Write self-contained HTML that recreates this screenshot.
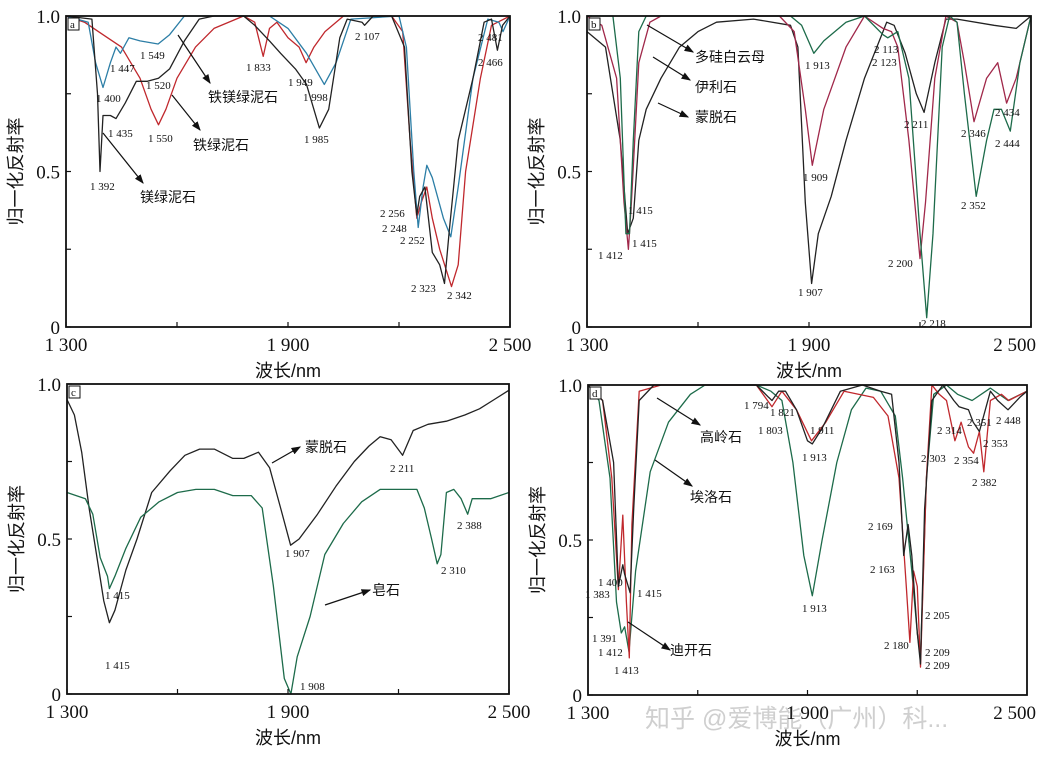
<!DOCTYPE html>
<html><head><meta charset="utf-8"><style>
html,body{margin:0;padding:0;background:#fff;}
svg{display:block;font-family:"Liberation Serif","Noto Serif CJK SC",serif;}
.num{font-size:11px;fill:#111;}
.nm{font-size:14px;fill:#111;font-family:"Liberation Sans","Noto Sans CJK SC",sans-serif;}
.tick{font-size:19px;fill:#111;}
.ttl{font-size:18px;fill:#111;font-family:"Liberation Sans","Noto Sans CJK SC",sans-serif;}
</style></head><body>
<svg id="fig" width="1038" height="761" viewBox="0 0 1038 761" xmlns="http://www.w3.org/2000/svg">
<defs><marker id="ah" markerWidth="8" markerHeight="6" refX="7" refY="3" orient="auto"><path d="M0,0 L8,3 L0,6 Z" fill="#111"/></marker></defs>
<text x="645" y="727" font-size="25" fill="#cfcfcf" font-family="Liberation Sans, Noto Sans CJK SC, sans-serif">知乎 @爱博能（广州）科...</text>
</svg>
<script>
// Panel a: chlorites
const aWl1=[1300,1370,1385,1392,1400,1420,1435,1460,1490,1520,1550,1580,1620,1660,1700,1780,1810,1850,1880,1920,1950,1985,2010,2040,2060,2100,2107,2130,2180,2215,2235,2248,2256,2270,2290,2310,2323,2335,2360,2400,2430,2450,2466,2480,2500];
const aV1=[1.0,0.99,0.75,0.5,0.68,0.68,0.67,0.72,0.79,0.79,0.8,0.83,0.92,0.99,1.0,1.0,0.97,0.92,0.88,0.83,0.78,0.64,0.7,0.93,0.99,0.98,0.97,1.0,1.0,0.9,0.5,0.36,0.42,0.45,0.24,0.2,0.14,0.3,0.6,0.8,0.98,0.99,0.89,0.97,1.0];
const aWl2=[1300,1360,1380,1400,1420,1435,1447,1470,1500,1549,1580,1620,1850,1900,1950,1998,2030,2070,2200,2220,2240,2252,2265,2275,2290,2320,2340,2360,2400,2440,2470,2481,2500];
const aV2=[1.0,0.98,0.85,0.77,0.85,0.9,0.88,0.93,0.92,0.91,0.94,1.0,1.0,0.96,0.88,0.78,0.85,0.99,1.0,0.9,0.5,0.32,0.45,0.52,0.48,0.35,0.29,0.45,0.8,0.99,0.98,0.95,1.0];
const aWl3=[1300,1350,1400,1450,1500,1530,1550,1570,1600,1650,1700,1780,1810,1833,1850,1870,1900,1930,1949,1970,2000,2050,2180,2210,2230,2248,2260,2275,2290,2310,2342,2360,2380,2420,2450,2500];
const aV3=[1.0,0.98,0.94,0.9,0.8,0.7,0.65,0.7,0.8,0.9,0.96,1.0,0.98,0.87,0.96,0.98,0.93,0.9,0.85,0.9,0.95,1.0,1.0,0.95,0.6,0.35,0.4,0.45,0.35,0.25,0.13,0.2,0.5,0.8,0.97,1.0];
// Panel b: micas / smectite
const bWl1=[1300,1370,1390,1405,1415,1425,1440,1460,1850,1880,1913,1940,2000,2050,2100,2113,2140,2170,2200,2218,2235,2260,2280,2300,2320,2352,2380,2400,2420,2444,2470,2500];
const bV1=[1.0,1.0,0.8,0.3,0.3,0.6,0.95,1.0,1.0,0.97,0.88,0.92,0.98,1.0,0.94,0.93,0.95,0.8,0.3,0.03,0.3,0.9,1.0,0.98,0.75,0.42,0.6,0.7,0.7,0.63,0.85,1.0];
const bWl2=[1300,1340,1380,1400,1412,1420,1440,1470,1500,1820,1860,1890,1909,1940,2000,2050,2100,2123,2140,2170,2200,2215,2240,2270,2300,2320,2346,2380,2410,2434,2460,2500];
const bV2=[1.0,0.97,0.8,0.4,0.25,0.4,0.85,0.98,1.0,1.0,0.95,0.7,0.52,0.7,0.9,1.0,0.96,0.95,0.9,0.6,0.22,0.4,0.8,1.0,0.98,0.85,0.66,0.8,0.85,0.72,0.8,1.0];
const bWl3=[1300,1350,1390,1410,1425,1440,1460,1500,1550,1600,1650,1750,1850,1870,1890,1907,1925,1960,2000,2050,2090,2110,2130,2160,2190,2211,2240,2270,2300,2400,2460,2500];
const bV3=[0.95,0.9,0.6,0.3,0.35,0.6,0.7,0.8,0.9,0.95,0.98,0.99,0.97,0.9,0.4,0.14,0.3,0.42,0.6,0.8,0.92,0.98,0.97,0.88,0.75,0.69,0.85,0.99,0.99,0.97,0.96,1.0];
// Panel c: montmorillonite / saponite
const cWl1=[1300,1320,1340,1360,1380,1400,1415,1430,1460,1490,1530,1580,1620,1660,1700,1750,1780,1820,1850,1880,1907,1930,1980,2030,2080,2120,2150,2180,2211,2240,2280,2330,2380,2420,2460,2500];
const cV1=[0.95,0.9,0.78,0.6,0.45,0.3,0.23,0.27,0.4,0.5,0.65,0.72,0.77,0.79,0.79,0.76,0.76,0.78,0.73,0.6,0.48,0.5,0.58,0.67,0.75,0.8,0.83,0.82,0.77,0.85,0.87,0.88,0.9,0.92,0.95,0.98];
const cWl2=[1300,1350,1370,1390,1410,1415,1430,1460,1500,1550,1600,1650,1700,1750,1800,1830,1860,1890,1908,1925,1960,2000,2050,2100,2150,2200,2250,2270,2290,2305,2315,2330,2350,2370,2388,2400,2450,2500];
const cV2=[0.65,0.63,0.58,0.44,0.38,0.34,0.38,0.47,0.57,0.62,0.65,0.66,0.66,0.64,0.64,0.6,0.35,0.05,0.0,0.12,0.25,0.45,0.55,0.62,0.66,0.66,0.66,0.6,0.5,0.42,0.45,0.65,0.66,0.63,0.58,0.63,0.63,0.65];
// Panel d: kaolin group
const dWl1=[1300,1340,1370,1383,1395,1400,1415,1425,1440,1480,1760,1794,1803,1821,1840,1870,1900,1913,1940,1990,2050,2100,2130,2150,2163,2175,2185,2200,2209,2220,2240,2270,2300,2314,2340,2353,2370,2400,2420,2448,2480,2500];
const dV1=[1.0,0.95,0.75,0.35,0.42,0.39,0.33,0.6,0.95,1.0,1.0,0.96,0.95,0.98,0.98,0.92,0.82,0.81,0.86,0.98,1.0,0.98,0.97,0.75,0.45,0.55,0.45,0.2,0.1,0.6,0.95,1.0,0.95,0.93,0.92,0.88,0.85,0.98,0.95,0.92,0.96,0.98];
const dWl2=[1300,1340,1365,1383,1395,1405,1413,1420,1440,1500,1760,1803,1830,1870,1911,1950,2000,2080,2120,2150,2170,2180,2190,2200,2209,2225,2240,2260,2280,2303,2320,2340,2354,2370,2382,2400,2430,2450,2500];
const dV2=[1.0,0.95,0.7,0.34,0.58,0.3,0.12,0.55,0.98,1.0,1.0,0.93,0.98,0.92,0.82,0.88,0.98,0.96,0.9,0.7,0.35,0.17,0.4,0.35,0.09,0.7,1.0,0.97,0.95,0.82,0.88,0.8,0.78,0.85,0.72,0.95,0.97,0.95,0.98];
const dWl3=[1300,1330,1360,1378,1391,1400,1412,1430,1470,1520,1580,1620,1760,1800,1830,1860,1890,1913,1940,1980,2020,2060,2100,2140,2160,2185,2200,2209,2225,2245,2280,2310,2350,2400,2448,2500];
const dV3=[1.0,0.95,0.7,0.3,0.2,0.22,0.14,0.4,0.72,0.88,0.97,1.0,1.0,0.98,0.95,0.75,0.45,0.32,0.5,0.75,0.92,0.99,0.98,0.9,0.7,0.4,0.2,0.12,0.7,0.97,1.0,0.97,0.95,0.99,0.95,0.98];
const xTicks=["1 300","1 900","2 500"];
const yTicks=["0","0.5","1.0"];

const svg=document.getElementById('fig');
const NS='http://www.w3.org/2000/svg';
function mk(tag,attrs,parent){const e=document.createElementNS(NS,tag);for(const k in attrs)e.setAttribute(k,attrs[k]);(parent||svg).appendChild(e);return e;}
function txt(x,y,s,cls,parent){const t=mk('text',{x:x,y:y,class:cls},parent);t.textContent=s;return t;}

const panels=[
 {id:'a',L:66,R:510,T:16,B:327,series:[[aWl3,aV3,'#c0282d','iron-chlorite'],[aWl2,aV2,'#2c7ea6','ferromagnesian-chlorite'],[aWl1,aV1,'#222','magnesian-chlorite']],
  names:[[208,102,'铁镁绿泥石'],[193,150,'铁绿泥石'],[140,202,'镁绿泥石']],arrows:[[178,35,210,83],[172,95,200,130],[103,133,143,183]],
  nums:[[140,59,'1 549'],[110,72,'1 447'],[96,102,'1 400'],[146,89,'1 520'],[108,137,'1 435'],[148,142,'1 550'],[90,190,'1 392'],[246,71,'1 833'],[288,86,'1 949'],[303,101,'1 998'],[304,143,'1 985'],[355,40,'2 107'],[478,41,'2 481'],[478,66,'2 466'],[380,217,'2 256'],[382,232,'2 248'],[400,244,'2 252'],[411,292,'2 323'],[447,299,'2 342']]},
 {id:'b',L:587,R:1031,T:16,B:327,series:[[bWl3,bV3,'#222','montmorillonite'],[bWl2,bV2,'#a0284a','illite'],[bWl1,bV1,'#1d6b4a','phengite']],
  names:[[695,62,'多硅白云母'],[695,92,'伊利石'],[695,122,'蒙脱石']],arrows:[[647,25,693,52],[653,57,690,80],[658,103,688,117]],
  nums:[[805,69,'1 913'],[874,53,'2 113'],[872,66,'2 123'],[904,128,'2 211'],[961,137,'2 346'],[995,116,'2 434'],[995,147,'2 444'],[803,181,'1 909'],[961,209,'2 352'],[628,214,'1 415'],[632,247,'1 415'],[598,259,'1 412'],[888,267,'2 200'],[798,296,'1 907'],[921,327,'2 218']]},
 {id:'c',L:67,R:509,T:384,B:694,series:[[cWl1,cV1,'#222','montmorillonite'],[cWl2,cV2,'#1d6b4a','saponite']],
  names:[[305,452,'蒙脱石'],[372,595,'皂石']],arrows:[[272,463,300,447],[325,605,370,590]],
  nums:[[390,472,'2 211'],[457,529,'2 388'],[285,557,'1 907'],[441,574,'2 310'],[105,599,'1 415'],[105,669,'1 415'],[300,690,'1 908']]},
 {id:'d',L:588,R:1027,T:385,B:695,series:[[dWl3,dV3,'#1d6b4a','halloysite'],[dWl2,dV2,'#c0282d','dickite'],[dWl1,dV1,'#222','kaolinite']],
  names:[[700,442,'高岭石'],[690,502,'埃洛石'],[670,655,'迪开石']],arrows:[[657,398,700,425],[655,460,692,486],[628,622,670,650]],
  nums:[[744,409,'1 794'],[770,416,'1 821'],[758,434,'1 803'],[810,434,'1 911'],[802,461,'1 913'],[937,434,'2 314'],[967,426,'2 351'],[996,424,'2 448'],[921,462,'2 303'],[954,464,'2 354'],[983,447,'2 353'],[972,486,'2 382'],[868,530,'2 169'],[870,573,'2 163'],[802,612,'1 913'],[598,586,'1 400'],[585,598,'1 383'],[637,597,'1 415'],[925,619,'2 205'],[592,642,'1 391'],[598,656,'1 412'],[884,649,'2 180'],[925,656,'2 209'],[925,669,'2 209'],[614,674,'1 413']]}
];

panels.forEach(p=>{
 const g=mk('g',{});
 
 
 const xs=w=>p.L+(w-1300)/1200*(p.R-p.L);
 const ys=v=>p.B-v*(p.B-p.T);
 p.series.forEach(s=>{
  const d=s[0].map((w,i)=>(i?'L':'M')+xs(w).toFixed(1)+','+ys(s[1][i]).toFixed(1)).join(' ');
  const path=mk('path',{d:d,fill:'none',stroke:s[2],'stroke-width':1.3,'stroke-linejoin':'round'},g);
  
  
 });
 const fr=mk('rect',{x:p.L,y:p.T,width:p.R-p.L,height:p.B-p.T,fill:'none',stroke:'#111','stroke-width':1.8},g);
 
 
 mk('rect',{x:p.L+2,y:p.T+2,width:11,height:12,fill:'#fff',stroke:'#111','stroke-width':1},g);
 const tg=txt(p.L+4,p.T+12,p.id,'num',g);
 
 
 [1300,1600,1900,2200,2500].forEach(w=>mk('line',{x1:xs(w),x2:xs(w),y1:p.B,y2:p.B-5,stroke:'#111','stroke-width':1.2},g));
 [0,0.25,0.5,0.75,1].forEach(v=>mk('line',{x1:p.L,x2:p.L+5,y1:ys(v),y2:ys(v),stroke:'#111','stroke-width':1.2},g));
 xTicks.forEach((s,i)=>{const w=[1300,1900,2500][i];
  let x=xs(w), anchor='middle';
  if(x+30>1036){x=1036;anchor='end';}
  const t=txt(x,p.B+24,s,'tick',g);t.setAttribute('text-anchor',anchor);
  
  });
 yTicks.forEach((s,i)=>{const v=[0,0.5,1][i];const t=txt(p.L-6,ys(v)+7,s,'tick',g);t.setAttribute('text-anchor','end');
  
  });
 const xt=txt((p.L+p.R)/2,p.B+50,'波长/nm','ttl',g);xt.setAttribute('text-anchor','middle');
 
 
 const cy=(p.T+p.B)/2, cx=p.L-44;
 const yt=txt(cx,cy,'归一化反射率','ttl',g);yt.setAttribute('text-anchor','middle');yt.setAttribute('transform','rotate(-90 '+cx+' '+cy+')');
 
 
 p.arrows.forEach(a=>{const l=mk('line',{x1:a[0],y1:a[1],x2:a[2],y2:a[3],stroke:'#111','stroke-width':1.2,'marker-end':'url(#ah)'},g);
  
  });
 p.names.forEach(n=>{const t=txt(n[0],n[1],n[2],'nm',g);
  
  });
 p.nums.forEach(n=>{const t=txt(n[0],n[1],n[2],'num',g);
  
  });
});
</script>
</body></html>
